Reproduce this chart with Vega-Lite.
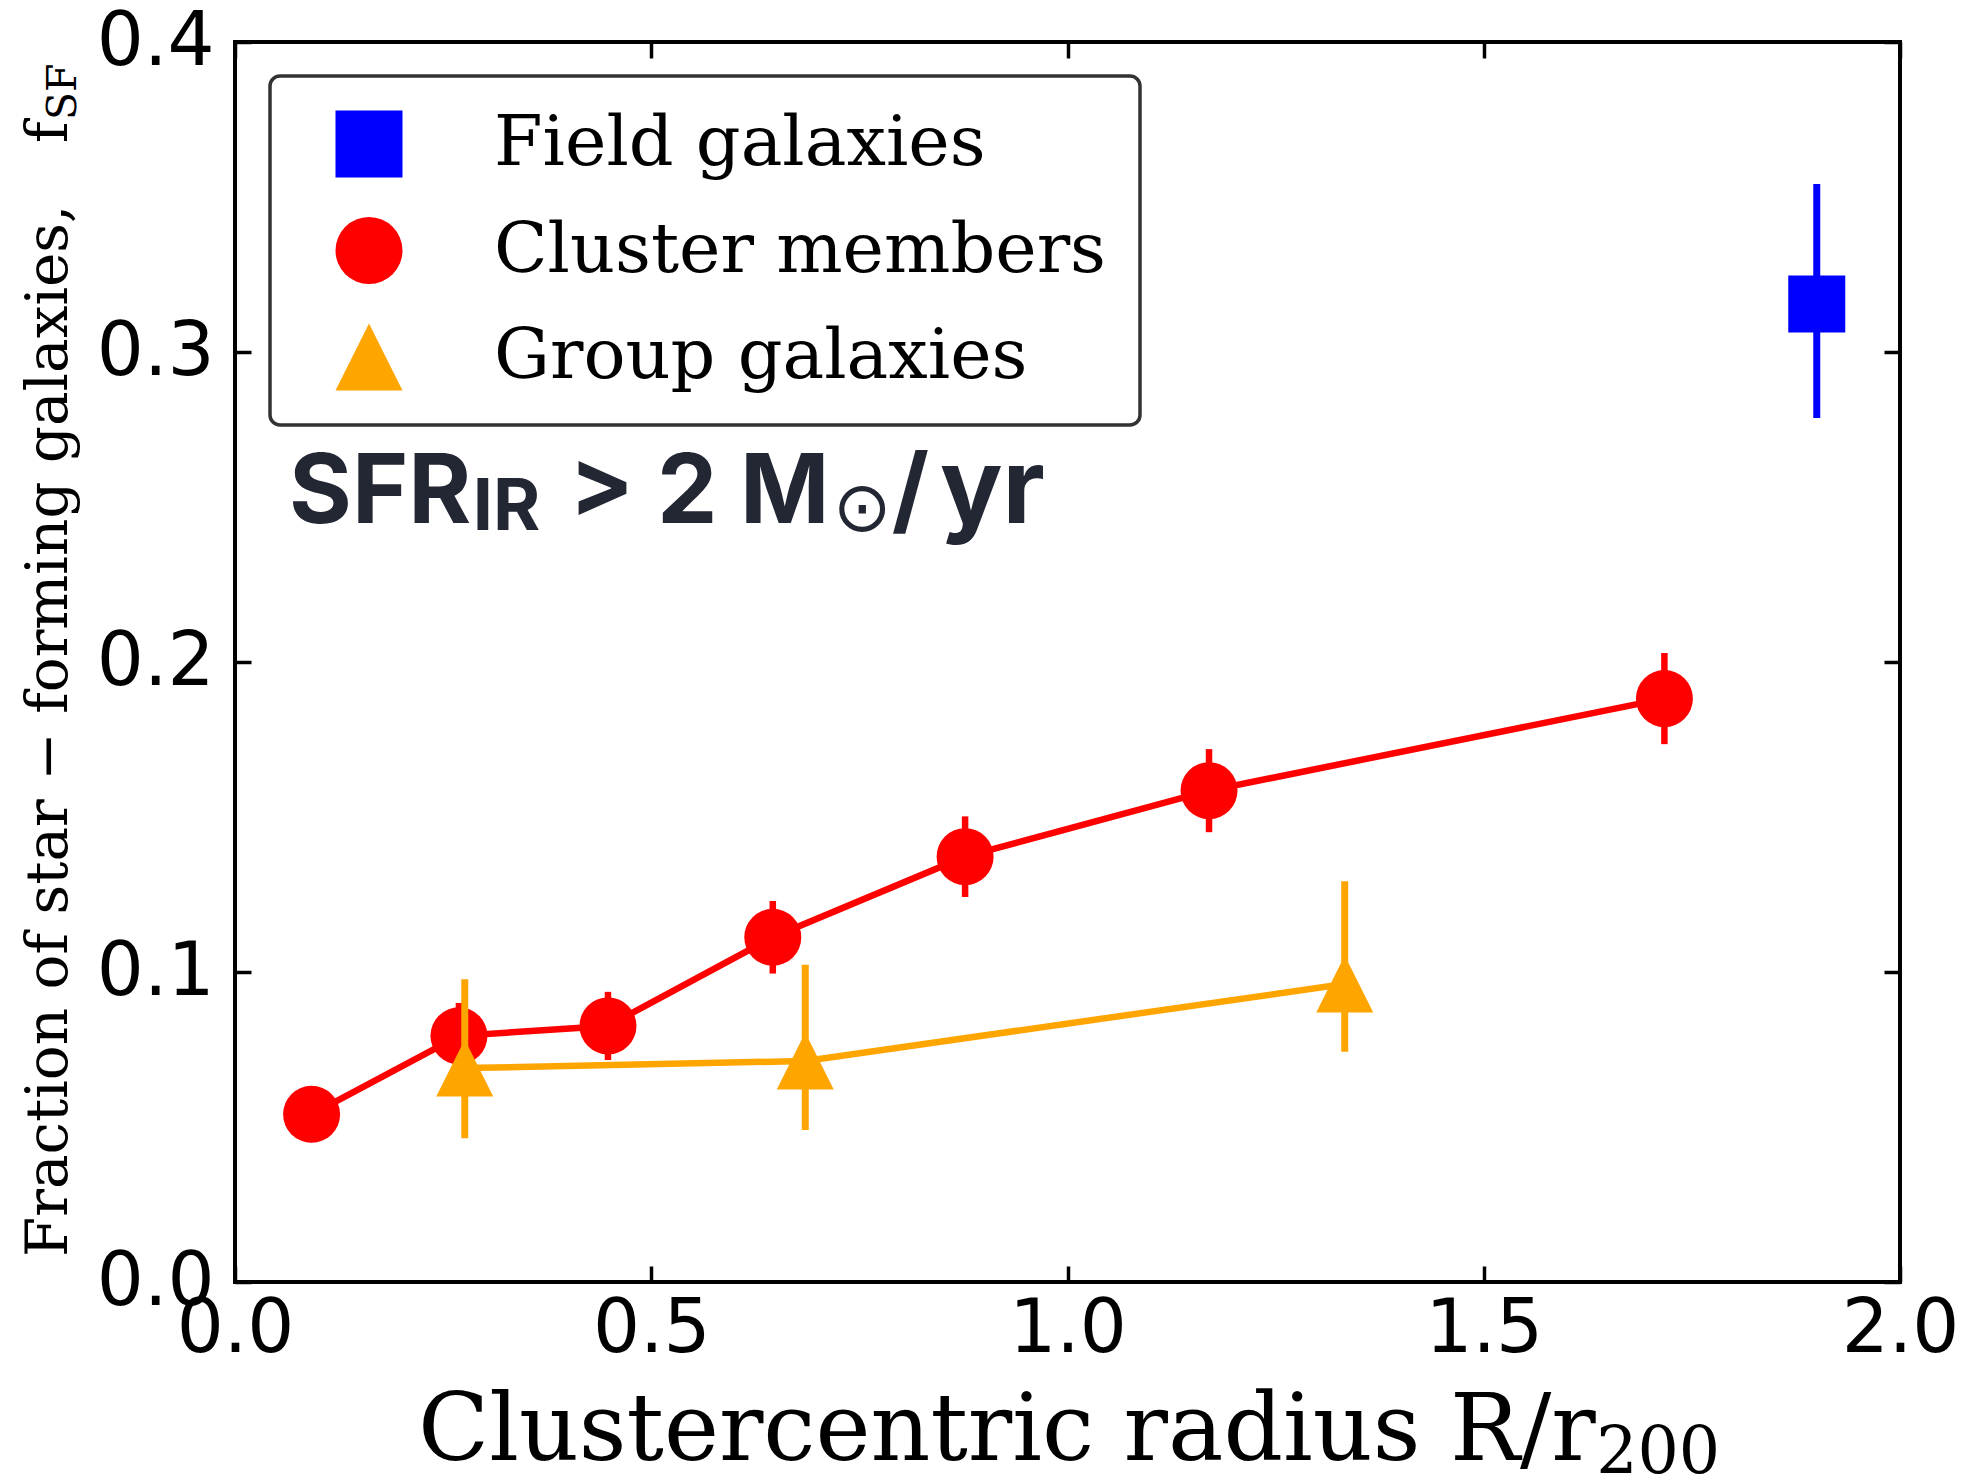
{
  "$schema": "https://vega.github.io/schema/vega-lite/v6.json",
  "width": 1665,
  "height": 1240,
  "autosize": {"type": "none"},
  "padding": {"left": 235, "top": 42, "right": 65, "bottom": 196},
  "background": "white",
  "config": {
    "view": {"stroke": "black", "strokeWidth": 4},
    "axis": {"grid": false, "domain": false, "ticks": true, "tickColor": "black", "tickWidth": 3.5, "tickSize": -16, "labelFont": "DejaVu Sans", "labelFontSize": 74, "labelColor": "black", "labelFlush": false, "labelOverlap": false},
    "legend": {"padding": 33, "strokeColor": "#333333", "strokeWidth": 3.5, "cornerRadius": 10, "fillColor": "white", "symbolSize": 4489, "symbolOffset": 31, "labelOffset": 90, "rowPadding": 36.5, "labelFont": "DejaVu Serif", "labelFontSize": 70, "labelColor": "black", "symbolStrokeWidth": 0, "labelLimit": 0, "symbolOpacity": 1}
  },
  "datasets": {
    "pts": [
      {"series": "Field galaxies", "r": 1.900, "f": 0.3155, "lo": 0.2787, "hi": 0.3542},
      {"series": "Cluster members", "r": 0.092, "f": 0.0541, "lo": 0.0461, "hi": 0.0621},
      {"series": "Cluster members", "r": 0.269, "f": 0.0794, "lo": 0.0688, "hi": 0.0900},
      {"series": "Cluster members", "r": 0.448, "f": 0.0826, "lo": 0.0716, "hi": 0.0936},
      {"series": "Cluster members", "r": 0.646, "f": 0.1112, "lo": 0.0995, "hi": 0.1229},
      {"series": "Cluster members", "r": 0.877, "f": 0.1372, "lo": 0.1242, "hi": 0.1502},
      {"series": "Cluster members", "r": 1.170, "f": 0.1585, "lo": 0.1451, "hi": 0.1719},
      {"series": "Cluster members", "r": 1.717, "f": 0.1882, "lo": 0.1735, "hi": 0.2029},
      {"series": "Group galaxies", "r": 0.276, "f": 0.0690, "lo": 0.0464, "hi": 0.0977},
      {"series": "Group galaxies", "r": 0.685, "f": 0.0713, "lo": 0.0490, "hi": 0.1023},
      {"series": "Group galaxies", "r": 1.333, "f": 0.0961, "lo": 0.0743, "hi": 0.1293}
    ]
  },
  "layer": [
    {
      "data": {"name": "pts"},
      "transform": [{"filter": "datum.series === 'Cluster members'"}],
      "mark": {"type": "line", "color": "#ff0000", "strokeWidth": 6.5},
      "encoding": {
        "x": {"field": "r", "type": "quantitative", "scale": {"domain": [0, 2]}, "axis": {"orient": "bottom", "values": [0, 0.5, 1, 1.5, 2], "format": ".1f", "labelPadding": 27, "title": null}},
        "y": {"field": "f", "type": "quantitative", "scale": {"domain": [0, 0.4]}, "axis": {"orient": "left", "values": [0, 0.1, 0.2, 0.3, 0.4], "format": ".1f", "labelPadding": 37, "title": null}}
      }
    },
    {
      "data": {"name": "pts"},
      "transform": [{"filter": "datum.series === 'Cluster members'"}],
      "mark": {"type": "rule", "color": "#ff0000", "strokeWidth": 6.5},
      "encoding": {
        "x": {"field": "r", "type": "quantitative", "scale": {"domain": [0, 2]}, "axis": {"orient": "top", "values": [0, 0.5, 1, 1.5, 2], "labels": false, "title": null}},
        "y": {"field": "lo", "type": "quantitative", "scale": {"domain": [0, 0.4]}, "axis": {"orient": "right", "values": [0, 0.1, 0.2, 0.3, 0.4], "labels": false, "title": null}},
        "y2": {"field": "hi"}
      }
    },
    {
      "data": {"name": "pts"},
      "transform": [{"filter": "datum.series === 'Field galaxies'"}],
      "mark": {"type": "rule", "color": "#0000ff", "strokeWidth": 7},
      "encoding": {
        "x": {"field": "r", "type": "quantitative", "scale": {"domain": [0, 2]}, "axis": null},
        "y": {"field": "lo", "type": "quantitative", "scale": {"domain": [0, 0.4]}, "axis": null},
        "y2": {"field": "hi"}
      }
    },
    {
      "data": {"name": "pts"},
      "transform": [{"filter": "datum.series !== 'Group galaxies'"}],
      "mark": {"type": "point", "filled": true, "opacity": 1, "size": 3249, "strokeWidth": 0},
      "encoding": {
        "x": {"field": "r", "type": "quantitative", "scale": {"domain": [0, 2]}, "axis": null},
        "y": {"field": "f", "type": "quantitative", "scale": {"domain": [0, 0.4]}, "axis": null},
        "color": {"field": "series", "type": "nominal", "scale": {"domain": ["Field galaxies", "Cluster members", "Group galaxies"], "range": ["#0000ff", "#ff0000", "#ffa500"]}, "legend": {"orient": "none", "legendX": 35, "legendY": 34, "title": null}},
        "shape": {"field": "series", "type": "nominal", "scale": {"domain": ["Field galaxies", "Cluster members", "Group galaxies"], "range": ["square", "circle", "M0,-1L-1,1L1,1Z"]}, "legend": {"orient": "none", "legendX": 35, "legendY": 34, "title": null}}
      }
    },
    {
      "data": {"name": "pts"},
      "transform": [{"filter": "datum.series === 'Group galaxies'"}],
      "mark": {"type": "line", "color": "#ffa500", "strokeWidth": 6.5},
      "encoding": {
        "x": {"field": "r", "type": "quantitative", "scale": {"domain": [0, 2]}, "axis": null},
        "y": {"field": "f", "type": "quantitative", "scale": {"domain": [0, 0.4]}, "axis": null}
      }
    },
    {
      "data": {"name": "pts"},
      "transform": [{"filter": "datum.series === 'Group galaxies'"}],
      "mark": {"type": "rule", "color": "#ffa500", "strokeWidth": 7},
      "encoding": {
        "x": {"field": "r", "type": "quantitative", "scale": {"domain": [0, 2]}, "axis": null},
        "y": {"field": "lo", "type": "quantitative", "scale": {"domain": [0, 0.4]}, "axis": null},
        "y2": {"field": "hi"}
      }
    },
    {
      "data": {"name": "pts"},
      "transform": [{"filter": "datum.series === 'Group galaxies'"}],
      "mark": {"type": "point", "filled": true, "opacity": 1, "size": 3249, "strokeWidth": 0},
      "encoding": {
        "x": {"field": "r", "type": "quantitative", "scale": {"domain": [0, 2]}, "axis": null},
        "y": {"field": "f", "type": "quantitative", "scale": {"domain": [0, 0.4]}, "axis": null},
        "color": {"field": "series", "type": "nominal", "scale": {"domain": ["Field galaxies", "Cluster members", "Group galaxies"], "range": ["#0000ff", "#ff0000", "#ffa500"]}, "legend": {"orient": "none", "legendX": 35, "legendY": 34, "title": null}},
        "shape": {"field": "series", "type": "nominal", "scale": {"domain": ["Field galaxies", "Cluster members", "Group galaxies"], "range": ["square", "circle", "M0,-1L-1,1L1,1Z"]}, "legend": {"orient": "none", "legendX": 35, "legendY": 34, "title": null}}
      }
    },
    {
      "data": {"values": [{"x": 0.2198, "y": -0.0574, "t": "Clustercentric radius R/r"}]},
      "mark": {"type": "text", "font": "DejaVu Serif", "fontSize": 93, "align": "left", "baseline": "alphabetic", "color": "black"},
      "encoding": {
        "x": {"field": "x", "type": "quantitative", "scale": {"domain": [0, 2]}, "axis": null},
        "y": {"field": "y", "type": "quantitative", "scale": {"domain": [0, 0.4]}, "axis": null},
        "text": {"field": "t"}
      }
    },
    {
      "data": {"values": [{"x": 1.635, "y": -0.0616, "t": "200"}]},
      "mark": {"type": "text", "font": "DejaVu Serif", "fontSize": 65, "align": "left", "baseline": "alphabetic", "color": "black"},
      "encoding": {
        "x": {"field": "x", "type": "quantitative", "scale": {"domain": [0, 2]}, "axis": null},
        "y": {"field": "y", "type": "quantitative", "scale": {"domain": [0, 0.4]}, "axis": null},
        "text": {"field": "t"}
      }
    },
    {
      "data": {"values": [{"x": -0.2018, "y": 0.00806, "t": "Fraction of star \u2212 forming galaxies,"}, {"x": -0.2018, "y": 0.3674, "t": "f"}]},
      "mark": {"type": "text", "font": "DejaVu Serif", "fontSize": 58, "align": "left", "baseline": "alphabetic", "angle": 270, "color": "black"},
      "encoding": {
        "x": {"field": "x", "type": "quantitative", "scale": {"domain": [0, 2]}, "axis": null},
        "y": {"field": "y", "type": "quantitative", "scale": {"domain": [0, 0.4]}, "axis": null},
        "text": {"field": "t"}
      }
    },
    {
      "data": {"values": [{"x": -0.1904, "y": 0.3748, "t": "SF"}]},
      "mark": {"type": "text", "font": "DejaVu Serif", "fontSize": 41, "align": "left", "baseline": "alphabetic", "angle": 270, "color": "black"},
      "encoding": {
        "x": {"field": "x", "type": "quantitative", "scale": {"domain": [0, 2]}, "axis": null},
        "y": {"field": "y", "type": "quantitative", "scale": {"domain": [0, 0.4]}, "axis": null},
        "text": {"field": "t"}
      }
    },
    {
      "data": {"values": [{"x": 0.0649, "y": 0.2448, "t": "SFR"}, {"x": 0.4012, "y": 0.2448, "t": "> 2 M"}, {"x": 0.789, "y": 0.2448, "t": "/"}]},
      "mark": {"type": "text", "font": "Inter", "fontWeight": "bold", "fontSize": 96, "align": "left", "baseline": "alphabetic", "color": "#232733"},
      "encoding": {
        "x": {"field": "x", "type": "quantitative", "scale": {"domain": [0, 2]}, "axis": null},
        "y": {"field": "y", "type": "quantitative", "scale": {"domain": [0, 0.4]}, "axis": null},
        "text": {"field": "t"}
      }
    },
    {
      "data": {"values": [{"x": 0.8468, "y": 0.2448, "t": "yr"}]},
      "mark": {"type": "text", "font": "Inter", "fontWeight": "bold", "fontSize": 104, "align": "left", "baseline": "alphabetic", "color": "#232733"},
      "encoding": {
        "x": {"field": "x", "type": "quantitative", "scale": {"domain": [0, 2]}, "axis": null},
        "y": {"field": "y", "type": "quantitative", "scale": {"domain": [0, 0.4]}, "axis": null},
        "text": {"field": "t"}
      }
    },
    {
      "data": {"values": [{"x": 0.2855, "y": 0.2426, "t": "IR"}]},
      "mark": {"type": "text", "font": "Inter", "fontWeight": "bold", "fontSize": 72, "align": "left", "baseline": "alphabetic", "color": "#232733"},
      "encoding": {
        "x": {"field": "x", "type": "quantitative", "scale": {"domain": [0, 2]}, "axis": null},
        "y": {"field": "y", "type": "quantitative", "scale": {"domain": [0, 0.4]}, "axis": null},
        "text": {"field": "t"}
      }
    },
    {
      "data": {"values": [{"x": 0.7183, "y": 0.2423, "t": "\u2299"}]},
      "mark": {"type": "text", "font": "DejaVu Sans", "fontSize": 70, "align": "left", "baseline": "alphabetic", "color": "#232733"},
      "encoding": {
        "x": {"field": "x", "type": "quantitative", "scale": {"domain": [0, 2]}, "axis": null},
        "y": {"field": "y", "type": "quantitative", "scale": {"domain": [0, 0.4]}, "axis": null},
        "text": {"field": "t"}
      }
    }
  ],
  "resolve": {"axis": {"x": "independent", "y": "independent"}}
}
